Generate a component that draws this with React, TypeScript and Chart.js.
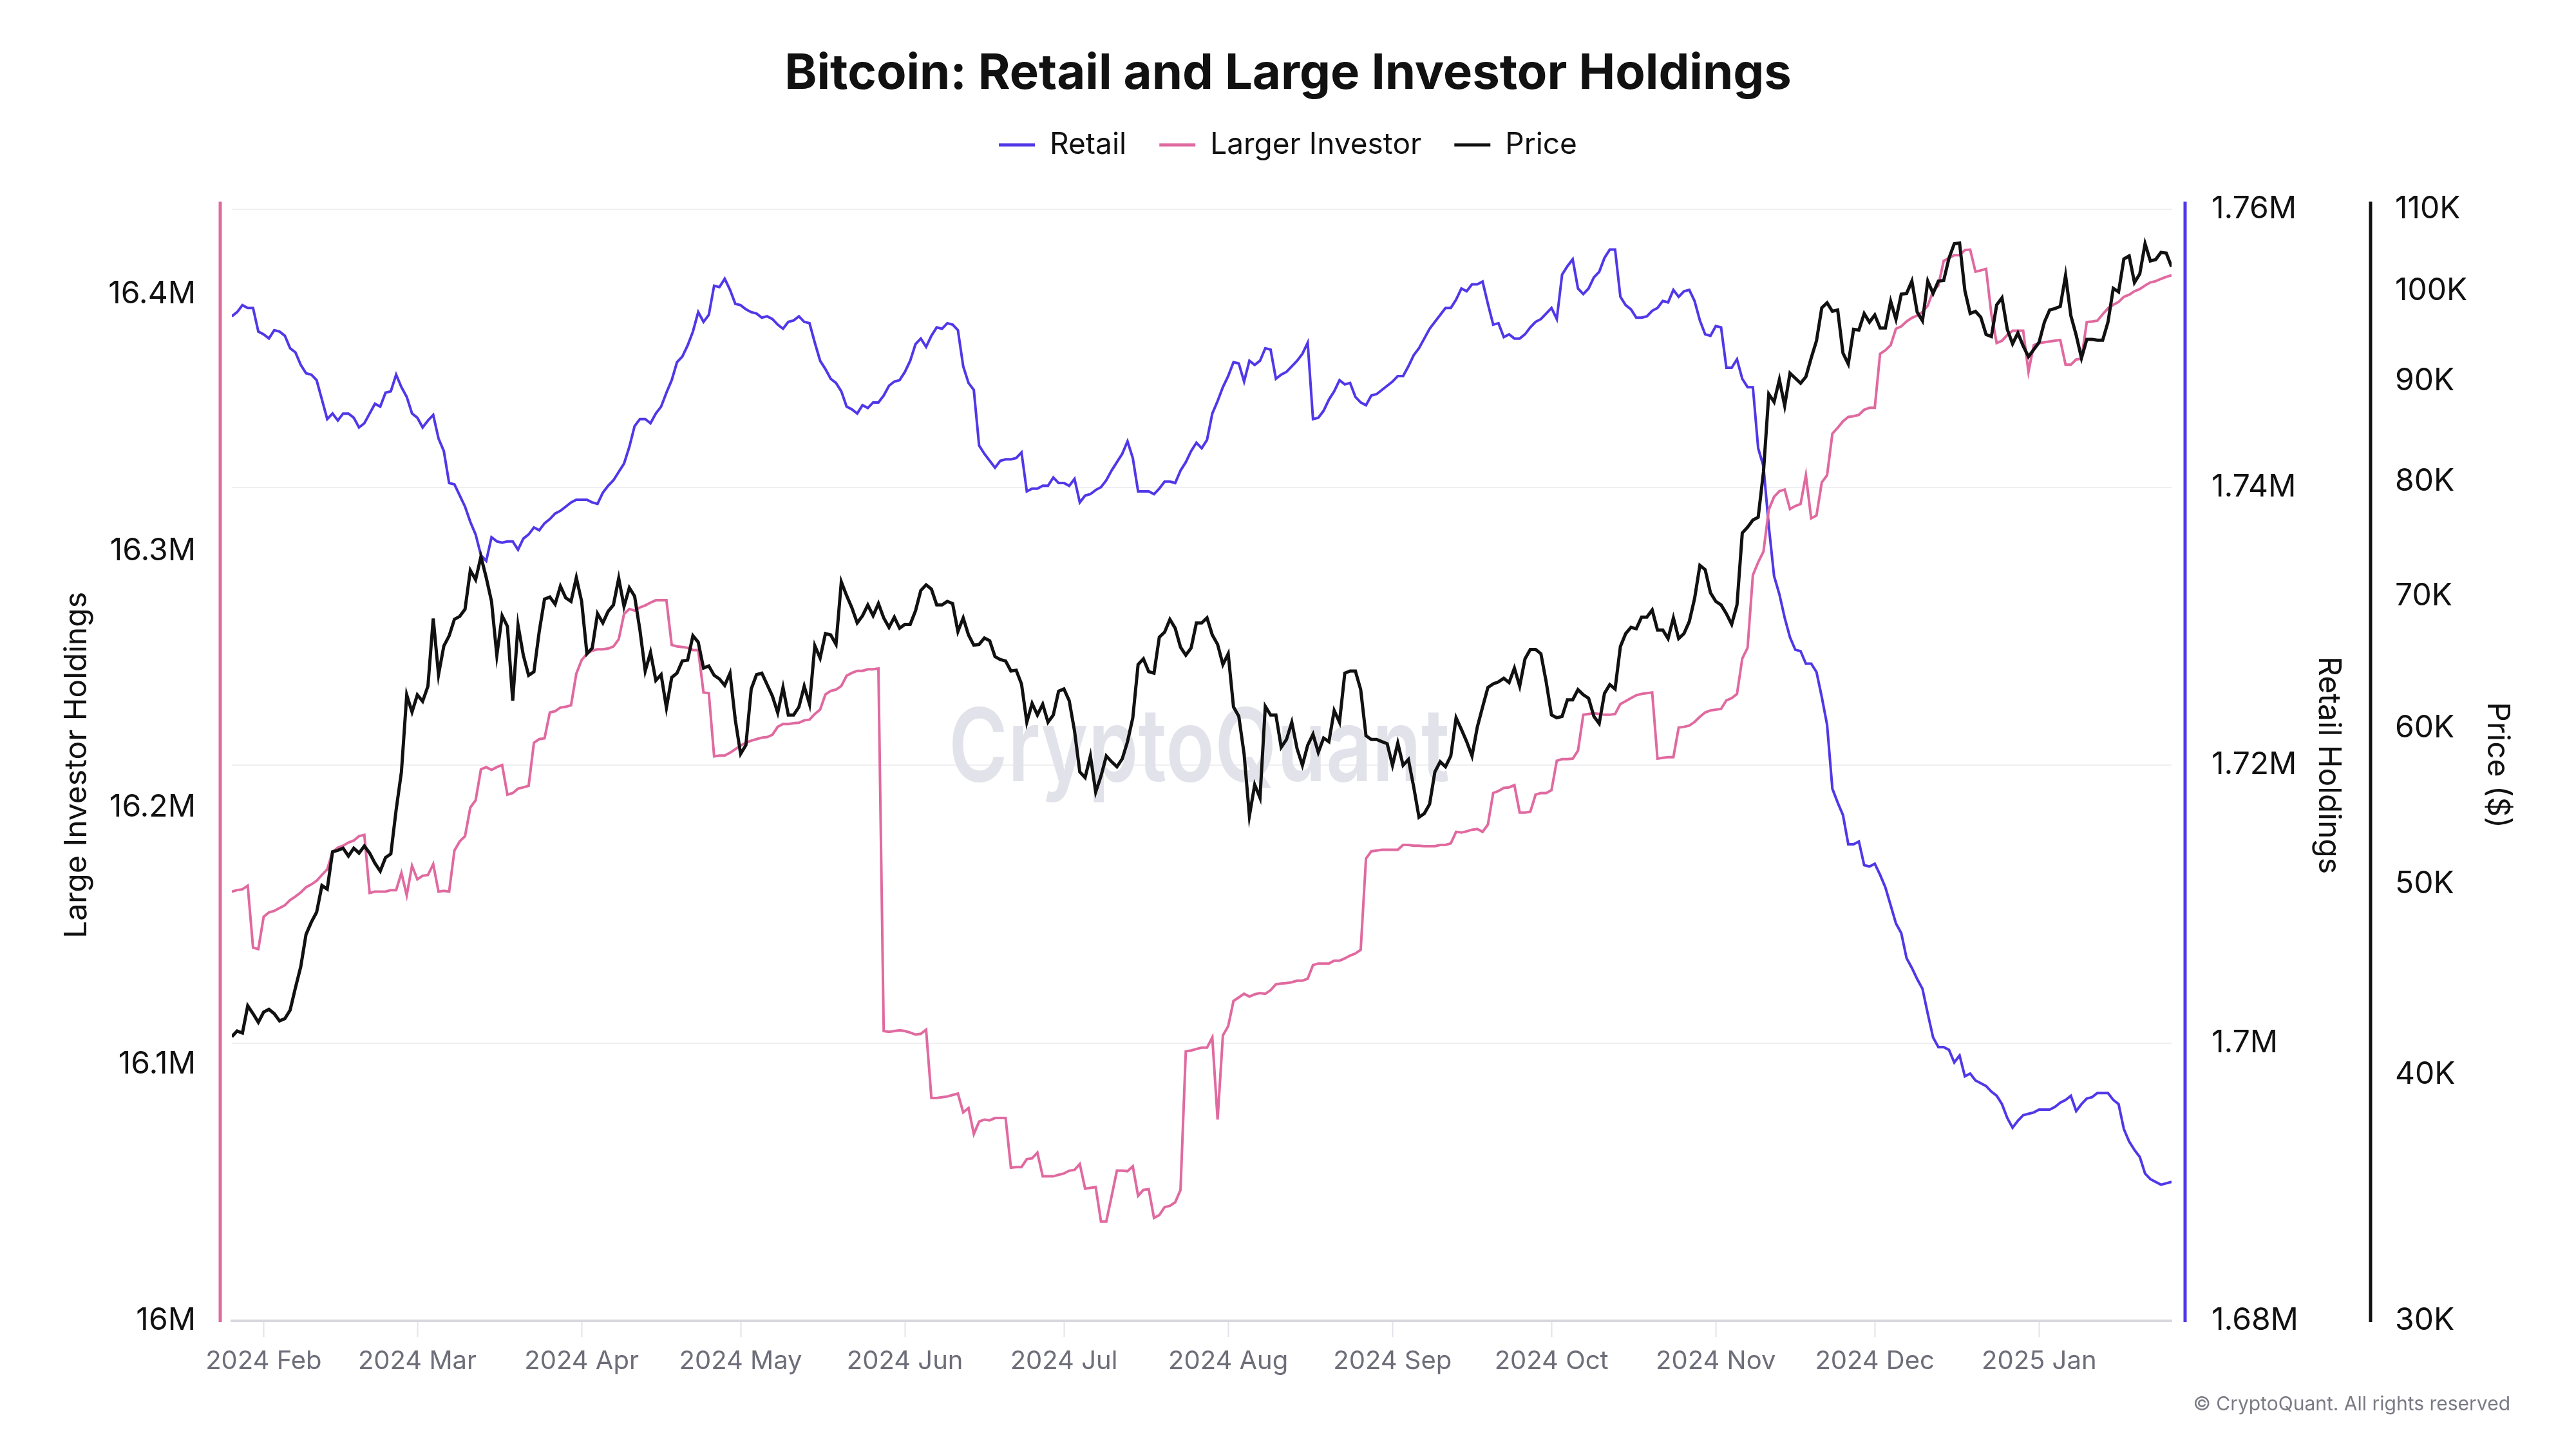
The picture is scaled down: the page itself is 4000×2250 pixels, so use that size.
import React, { useEffect, useRef } from 'react';
import { Chart, registerables } from 'chart.js';

Chart.register(...registerables);

// ---------- data (daily, starting at START_DATE) ----------
const START_DATE = '2024-01-26';

const MONTH_STARTS = [
  '2024-02-01', '2024-03-01', '2024-04-01', '2024-05-01', '2024-06-01', '2024-07-01',
  '2024-08-01', '2024-09-01', '2024-10-01', '2024-11-01', '2024-12-01', '2025-01-01',
];
const MONTH_LABELS = [
  '2024 Feb', '2024 Mar', '2024 Apr', '2024 May', '2024 Jun', '2024 Jul',
  '2024 Aug', '2024 Sep', '2024 Oct', '2024 Nov', '2024 Dec', '2025 Jan',
];

// Retail holdings, thousands of BTC
const RETAIL_K = [
  1752.3, 1752.6, 1753.1, 1752.9, 1752.9, 1751.2, 1751.0, 1750.7, 1751.3, 1751.2,
  1750.9, 1750.0, 1749.7, 1748.8, 1748.2, 1748.1, 1747.7, 1746.3, 1744.9, 1745.3,
  1744.8, 1745.3, 1745.3, 1745.0, 1744.3, 1744.6, 1745.3, 1746.0, 1745.8, 1746.8,
  1746.9, 1748.1, 1747.2, 1746.5, 1745.3, 1745.0, 1744.3, 1744.8, 1745.2, 1743.5,
  1742.6, 1740.3, 1740.2, 1739.4, 1738.6, 1737.5, 1736.6, 1735.1, 1734.7, 1736.4,
  1736.1, 1736.0, 1736.1, 1736.1, 1735.5, 1736.3, 1736.6, 1737.1, 1736.9, 1737.4,
  1737.7, 1738.1, 1738.3,
  1738.6, 1738.9, 1739.1, 1739.1, 1739.1, 1738.9, 1738.8, 1739.6, 1740.1, 1740.5,
  1741.1, 1741.7, 1742.9, 1744.4, 1744.9, 1744.9, 1744.6, 1745.3, 1745.8, 1746.8,
  1747.7, 1749.0, 1749.4, 1750.2, 1751.2, 1752.6, 1751.9, 1752.4, 1754.5, 1754.4,
  1755.0, 1754.2, 1753.2, 1753.1, 1752.8, 1752.6, 1752.5, 1752.2, 1752.3, 1752.1,
  1751.7, 1751.4, 1751.9, 1752.0, 1752.3, 1751.9, 1751.8, 1750.4, 1749.1, 1748.5,
  1747.8, 1747.5, 1746.9, 1745.8, 1745.6, 1745.3, 1745.9, 1745.7, 1746.1, 1746.1,
  1746.6,
  1747.3, 1747.6, 1747.7, 1748.3, 1749.1, 1750.3, 1750.7, 1750.1, 1750.9, 1751.5,
  1751.4, 1751.8, 1751.7, 1751.3, 1748.7, 1747.5, 1747.0, 1743.0, 1742.4, 1741.9,
  1741.4, 1741.9, 1742.0, 1742.0, 1742.1, 1742.5, 1739.7, 1739.9, 1739.9, 1740.1,
  1740.1, 1740.7, 1740.3, 1740.3, 1740.1, 1740.6, 1738.9, 1739.4, 1739.5, 1739.8,
  1740.0, 1740.5, 1741.2, 1741.8, 1742.4, 1743.3, 1742.1, 1739.7, 1739.7, 1739.7,
  1739.5, 1739.9, 1740.4, 1740.4, 1740.3, 1741.2, 1741.8, 1742.6, 1743.2, 1742.8,
  1743.4, 1745.3, 1746.2, 1747.2, 1748.0, 1749.0, 1748.9, 1747.6, 1749.1, 1748.8,
  1749.1, 1750.0, 1749.9, 1747.8, 1748.1, 1748.3, 1748.7, 1749.1, 1749.6, 1750.4,
  1744.9, 1745.0, 1745.5, 1746.3, 1746.9, 1747.7, 1747.4, 1747.5, 1746.5, 1746.1,
  1745.9, 1746.6, 1746.7, 1747.0, 1747.3, 1747.6, 1748.0, 1748.0, 1748.7, 1749.5,
  1750.0, 1750.7, 1751.4, 1751.9, 1752.4, 1752.9, 1752.9, 1753.5, 1754.3, 1754.1,
  1754.6, 1754.6, 1754.8, 1753.2, 1751.7, 1751.8, 1750.8, 1751.0, 1750.7, 1750.7,
  1751.0,
  1751.5, 1751.9, 1752.1, 1752.5, 1752.9, 1752.1, 1755.3, 1755.9, 1756.4, 1754.3,
  1753.9, 1754.3, 1755.1, 1755.5, 1756.5, 1757.1, 1757.1, 1753.7, 1753.1, 1752.8,
  1752.2, 1752.2, 1752.3, 1752.7, 1752.9, 1753.4, 1753.3, 1754.2, 1753.7, 1754.1,
  1754.2, 1753.4, 1752.0, 1751.0, 1750.9, 1751.6, 1751.5, 1748.6, 1748.6, 1749.2,
  1747.8, 1747.2, 1747.2, 1742.8, 1741.5, 1737.2, 1733.6, 1732.3, 1730.6, 1729.2,
  1728.3, 1728.2, 1727.3, 1727.3, 1726.7, 1724.9, 1722.9, 1718.3, 1717.3, 1716.4,
  1714.3,
  1714.3, 1714.5, 1712.8, 1712.7, 1712.9, 1712.1, 1711.2, 1709.9, 1708.6, 1707.9,
  1706.1, 1705.4, 1704.6, 1703.9, 1702.1, 1700.4, 1699.7, 1699.7, 1699.5, 1698.6,
  1699.1, 1697.6, 1697.8, 1697.3, 1697.1, 1696.9, 1696.5, 1696.2, 1695.6, 1694.6,
  1693.9, 1694.4, 1694.8, 1694.9, 1695.0, 1695.2, 1695.2, 1695.2, 1695.4, 1695.7,
  1695.9, 1696.2, 1695.1, 1695.6, 1696.0, 1696.1, 1696.4, 1696.4, 1696.4, 1695.9,
  1695.6, 1693.8, 1692.9, 1692.3, 1691.8, 1690.6, 1690.2, 1690.0, 1689.8, 1689.9,
  1690.0,
];

// Large investor holdings, thousands of BTC
const LARGE_K = [
  16167.2, 16167.8, 16168.1, 16169.5, 16145.4, 16144.8, 16157.4, 16159.1, 16159.7, 16160.8,
  16161.9, 16163.9, 16165.3, 16166.9, 16168.9, 16170.0, 16171.4, 16173.7, 16175.9, 16182.6,
  16184.3, 16185.1, 16186.3, 16187.1, 16188.8, 16189.3, 16166.7, 16167.2, 16167.2, 16167.2,
  16167.8, 16167.8, 16174.5, 16165.8, 16177.3, 16172.0, 16173.4, 16173.7, 16177.9, 16167.2,
  16167.5, 16167.2, 16183.2, 16186.8, 16188.8, 16200.0, 16202.8, 16214.8, 16215.7, 16214.6,
  16215.7, 16216.5, 16205.0, 16205.6, 16207.3, 16207.8, 16208.4, 16225.2, 16226.6, 16226.9,
  16237.0, 16237.5, 16238.9,
  16239.2, 16239.8, 16252.1, 16257.4, 16259.9, 16261.1, 16261.6, 16261.6, 16261.9, 16262.7,
  16265.5, 16275.3, 16277.3, 16276.7, 16277.9, 16278.7, 16279.8, 16280.7, 16280.7, 16280.7,
  16263.3, 16262.7, 16262.5, 16262.2, 16261.3, 16261.3, 16244.8, 16244.5, 16219.9, 16220.2,
  16220.2, 16221.3, 16222.7, 16224.1, 16225.2, 16226.0, 16226.6, 16227.2, 16227.4, 16228.3,
  16231.4, 16232.5, 16232.5, 16232.8, 16233.0, 16233.9, 16234.2, 16236.4, 16238.1, 16244.0,
  16245.4, 16245.9, 16247.3, 16251.3, 16252.4, 16253.2, 16253.2, 16253.8, 16253.8, 16254.1,
  16112.9,
  16112.6, 16112.9, 16113.2, 16112.9, 16112.3, 16111.5, 16111.8, 16113.4, 16086.8, 16086.8,
  16087.1, 16087.4, 16088.0, 16088.5, 16081.2, 16082.9, 16072.8, 16077.6, 16078.4, 16078.1,
  16079.0, 16079.0, 16079.0, 16059.7, 16059.9, 16059.9, 16063.0, 16063.3, 16065.5, 16056.3,
  16056.3, 16056.3, 16056.9, 16057.4, 16058.5, 16058.8, 16061.1, 16051.5, 16051.8, 16052.1,
  16038.7, 16038.7, 16048.5, 16058.5, 16058.5, 16058.3, 16060.2, 16048.7, 16051.0, 16051.3,
  16040.1, 16041.2, 16044.3, 16044.8, 16046.2, 16051.0, 16105.0, 16105.3, 16105.9, 16106.4,
  16106.4, 16110.4, 16078.4, 16111.2, 16114.8, 16124.6, 16126.0, 16127.4, 16126.3, 16127.2,
  16127.7, 16127.4, 16128.8, 16131.1, 16131.4, 16131.6, 16131.9, 16132.5, 16132.5, 16133.3,
  16138.6, 16139.2, 16139.2, 16139.2, 16140.3, 16140.3, 16141.2, 16142.3, 16143.1, 16144.5,
  16180.1, 16182.9, 16183.2, 16183.5, 16183.5, 16183.5, 16183.5, 16185.4, 16185.4, 16185.1,
  16185.1, 16184.9, 16184.9, 16184.9, 16185.4, 16185.4, 16186.0, 16190.5, 16190.2, 16190.7,
  16191.3, 16191.6, 16190.5, 16193.3, 16205.6, 16206.4, 16207.6, 16207.8, 16208.7, 16198.0,
  16198.0,
  16198.3, 16205.0, 16205.6, 16205.6, 16206.7, 16218.2, 16218.8, 16218.8, 16219.0, 16222.1,
  16236.1, 16236.4, 16236.7, 16236.4, 16236.1, 16236.1, 16236.4, 16240.3, 16241.4, 16242.6,
  16243.7, 16244.2, 16244.5, 16244.8, 16219.0, 16219.3, 16219.6, 16219.6, 16231.1, 16231.4,
  16231.9, 16233.3, 16235.3, 16237.0, 16237.8, 16238.1, 16238.4, 16241.7, 16242.6, 16244.2,
  16258.0, 16262.2, 16290.5, 16295.5, 16299.7, 16316.0, 16321.0, 16323.2, 16323.8, 16316.2,
  16317.4, 16318.2, 16329.4, 16312.6, 16313.7, 16326.6, 16329.4, 16345.6, 16347.9, 16350.4,
  16352.1,
  16352.4, 16352.9, 16354.9, 16355.7, 16355.7, 16376.7, 16378.1, 16380.1, 16386.5, 16387.4,
  16389.3, 16390.7, 16391.6, 16393.0, 16395.5, 16401.1, 16403.3, 16412.9, 16414.0, 16415.1,
  16415.1, 16417.1, 16417.3, 16408.7, 16409.2, 16409.8, 16392.1, 16380.9, 16381.8, 16384.0,
  16385.7, 16385.7, 16385.7, 16369.7, 16380.1, 16380.9, 16381.2, 16381.5, 16381.8, 16382.1,
  16372.5, 16372.5, 16374.5, 16374.8, 16389.1, 16389.3, 16389.6, 16392.1, 16394.4, 16395.8,
  16396.9, 16398.9, 16399.7, 16401.1, 16401.9, 16403.3, 16404.5, 16405.0, 16405.9, 16406.7,
  16407.3,
];

// BTC price, thousands of USD
const PRICE_K = [
  41.82, 42.10, 42.00, 43.36, 42.96, 42.53, 43.04, 43.18, 42.96, 42.60,
  42.71, 43.14, 44.28, 45.38, 47.13, 47.81, 48.37, 49.90, 49.69, 51.91,
  52.00, 52.13, 51.65, 52.13, 51.83, 52.26, 51.83, 51.22, 50.75, 51.56,
  51.78, 54.51, 56.99, 62.36, 61.12, 62.36, 61.89, 62.99, 68.18, 63.85,
  66.03, 66.81, 68.12, 68.35, 68.92, 72.13, 71.34, 73.29, 71.52, 69.56,
  65.31, 68.40, 67.55, 61.95, 67.66, 65.31, 63.80, 64.07, 67.15, 69.74,
  69.92, 69.33, 70.81,
  69.85, 69.56, 71.52, 69.56, 65.43, 65.87, 68.57, 67.83, 68.75, 69.27,
  71.46, 69.15, 70.68, 69.97, 67.27, 64.12, 65.53, 63.42, 63.85, 61.43,
  63.64, 63.96, 64.88, 64.94, 66.82, 66.32, 64.34, 64.50, 63.80, 63.53,
  63.05, 63.96, 60.55, 58.20, 58.80, 62.79, 63.85, 63.96, 63.11, 62.27,
  61.07, 62.90, 60.91, 60.91, 61.48, 63.00, 61.68, 66.04, 65.10, 66.99,
  66.88, 66.15, 71.16, 70.03, 69.03, 67.83, 68.40, 69.27, 68.40, 69.38,
  68.23,
  67.48, 68.29, 67.41, 67.72, 67.72, 68.80, 70.45, 70.92, 70.56, 69.27,
  69.27, 69.56, 69.38, 67.16, 68.23, 66.88, 66.09, 66.15, 66.65, 66.43,
  65.21, 64.99, 64.88, 64.12, 64.18, 63.16, 60.40, 61.74, 60.91, 61.68,
  60.40, 60.91, 62.63, 62.79, 61.94, 59.79, 56.99, 56.61, 58.06, 55.67,
  56.71, 58.06, 57.67, 57.33, 57.86, 59.04, 60.71, 64.61, 65.04, 64.07,
  63.96, 66.71, 67.10, 68.11, 67.41, 65.93, 65.32, 65.87, 67.83, 67.83,
  68.23, 66.88, 66.15, 64.61, 65.43, 61.48, 60.81, 58.20, 54.14, 56.14,
  55.29, 61.53, 60.91, 60.91, 58.65, 59.19, 60.40, 58.55, 57.43, 58.80,
  59.55, 58.30, 59.29, 59.04, 61.22, 60.40, 63.96, 64.12, 64.12, 62.74,
  59.45, 59.19, 59.19, 59.04, 58.90, 57.43, 58.94, 57.43, 57.82, 56.00,
  54.05, 54.28, 54.88, 56.99, 57.67, 57.33, 58.06, 60.71, 59.89, 59.04,
  58.06, 60.05, 61.48, 62.90, 63.16, 63.31, 63.58, 63.26, 64.34, 63.00,
  65.04,
  65.76, 65.76, 65.43, 63.31, 60.91, 60.71, 60.81, 62.00, 62.00, 62.74,
  62.37, 62.11, 60.81, 60.30, 62.47, 63.11, 62.79, 65.98, 66.99, 67.48,
  67.37, 68.29, 68.29, 68.86, 67.27, 67.27, 66.60, 68.23, 66.60, 66.99,
  67.94, 69.79, 72.55, 72.18, 70.26, 69.56, 69.27, 68.57, 67.72, 69.27,
  75.35, 75.86, 76.50, 76.75, 80.93, 88.63, 87.82, 90.14, 87.44, 90.82,
  90.29, 89.76, 90.44, 92.44, 94.32, 98.04, 98.62, 97.63, 97.79, 92.98,
  91.81,
  95.60, 95.52, 97.38, 96.40, 97.22, 95.76, 95.76, 98.78, 96.73, 99.61,
  99.70, 101.14, 97.55, 96.56, 101.14, 99.70, 101.14, 101.22, 103.89, 105.66,
  105.75, 100.03, 97.38, 97.63, 96.97, 95.03, 94.80, 98.36, 99.19, 95.60,
  94.00, 95.19, 93.76, 92.59, 93.37, 94.16, 96.40, 97.79, 97.95, 98.20,
  101.82, 97.14, 94.95, 92.44, 94.48, 94.48, 94.40, 94.40, 96.40, 100.29,
  99.87, 103.80, 104.16, 100.97, 101.99, 105.66, 103.55, 103.72, 104.59, 104.50,
  102.85,
];

const LARGE_TICKS = [16000000, 16100000, 16200000, 16300000, 16400000];
const RETAIL_TICKS = [1680000, 1700000, 1720000, 1740000, 1760000];
const PRICE_TICKS = [30000, 40000, 50000, 60000, 70000, 80000, 90000, 100000, 110000];

// ---------- styling ----------
const BLUE = '#5038e8';
const PINK = '#e06aa0';
const BLACK = '#111111';
const FONT = 'Inter, "Noto Sans", sans-serif';

const DAY_MS = 86400000;
const dayOffset = (d: string) =>
  Math.round((Date.parse(d + 'T00:00:00Z') - Date.parse(START_DATE + 'T00:00:00Z')) / DAY_MS);
const MONTH_OFFSETS = MONTH_STARTS.map(dayOffset);
const LAST_DAY = RETAIL_K.length - 1;

const axisLinesPlugin = {
  id: 'axisLines',
  afterDraw(chart: any) {
    const { ctx, chartArea, scales } = chart;
    const top = chartArea.top - 12;
    const bottom = chartArea.bottom + 2;
    const line = (x: number, color: string) => {
      ctx.save();
      ctx.strokeStyle = color;
      ctx.lineWidth = 5;
      ctx.beginPath();
      ctx.moveTo(x, top);
      ctx.lineTo(x, bottom);
      ctx.stroke();
      ctx.restore();
    };
    line(chartArea.left - 18, PINK);
    line(chartArea.right + 21, BLUE);
    line(scales.yPrice.left + 21, BLACK);
  },
};

const watermarkPlugin = {
  id: 'watermark',
  beforeDatasetsDraw(chart: any) {
    const { ctx, chartArea } = chart;
    const cx = (chartArea.left + chartArea.right) / 2 - 4;
    const cy = (chartArea.top + chartArea.bottom) / 2 - 23;
    ctx.save();
    ctx.font = `600 158px ${FONT}`;
    const w = ctx.measureText('CryptoQuant').width;
    const targetW = 778;
    ctx.translate(cx, cy);
    ctx.scale(targetW / w, 1);
    ctx.fillStyle = 'rgba(226, 226, 234, 1)';
    ctx.textAlign = 'center';
    ctx.textBaseline = 'middle';
    ctx.fillText('CryptoQuant', 0, 0);
    ctx.restore();
  },
};

const copyrightPlugin = {
  id: 'copyright',
  afterDraw(chart: any) {
    const { ctx } = chart;
    ctx.save();
    ctx.font = `30px ${FONT}`;
    ctx.fillStyle = '#7a7a85';
    ctx.textAlign = 'right';
    ctx.textBaseline = 'middle';
    ctx.fillText('© CryptoQuant. All rights reserved', 3898, 2181);
    ctx.restore();
  },
};

const fmtM = (v: number, digits: number) => `${parseFloat((v / 1e6).toFixed(digits))}M`;

export default function App() {
  const canvasRef = useRef<HTMLCanvasElement | null>(null);

  useEffect(() => {
    document.body.style.margin = '0';
    const canvas = canvasRef.current;
    if (!canvas) return;
    Chart.defaults.font.family = FONT;

    const chart = new Chart(canvas, {
      type: 'line',
      data: {
        datasets: [
          {
            label: 'Retail',
            data: RETAIL_K.map((v, i) => ({ x: i, y: v * 1000 })),
            borderColor: BLUE,
            backgroundColor: BLUE,
            borderWidth: 4,
            pointRadius: 0,
            tension: 0,
            yAxisID: 'yRetail',
            order: 3,
          },
          {
            label: 'Larger Investor',
            data: LARGE_K.map((v, i) => ({ x: i, y: v * 1000 })),
            borderColor: PINK,
            backgroundColor: PINK,
            borderWidth: 4,
            pointRadius: 0,
            tension: 0,
            yAxisID: 'yLarge',
            order: 2,
          },
          {
            label: 'Price',
            data: PRICE_K.map((v, i) => ({ x: i, y: v * 1000 })),
            borderColor: BLACK,
            backgroundColor: BLACK,
            borderWidth: 5,
            pointRadius: 0,
            tension: 0,
            yAxisID: 'yPrice',
            order: 1,
          },
        ],
      },
      options: {
        responsive: false,
        animation: false,
        devicePixelRatio: 1,
        parsing: false,
        events: [],
        layout: { padding: { left: 40, right: 40, top: 0, bottom: 0 } },
        plugins: {
          tooltip: { enabled: false },
          title: {
            display: true,
            text: 'Bitcoin: Retail and Large Investor Holdings',
            color: '#111111',
            font: { family: FONT, size: 76, weight: 'bold', lineHeight: 1 },
            padding: { top: 77, bottom: -2 },
          },
          legend: {
            display: true,
            position: 'top',
            align: 'center',
            labels: {
              color: '#111111',
              font: { family: FONT, size: 46 },
              boxWidth: 56,
              boxHeight: 5,
              padding: 51,
              sort: (a: any, b: any) => a.datasetIndex - b.datasetIndex,
              generateLabels: (c: any) =>
                Chart.defaults.plugins.legend.labels.generateLabels(c).map((l: any) => ({
                  ...l,
                  fillStyle: l.strokeStyle,
                  lineWidth: 0,
                })),
            },
          },
          subtitle: {
            display: true,
            text: '',
            weight: 500,
            font: { size: 10, lineHeight: 1 },
            padding: { top: 57, bottom: 0 },
          },
        },
        scales: {
          x: {
            type: 'linear',
            min: 0,
            max: LAST_DAY,
            grid: {
              drawOnChartArea: false,
              drawTicks: true,
              tickLength: 25,
              tickColor: '#e3e3e9',
              tickWidth: 2,
            },
            border: { display: true, color: '#d7d7de', width: 4 },
            ticks: {
              color: '#6e6e7a',
              font: { family: FONT, size: 40 },
              padding: 14,
              maxRotation: 0,
              autoSkip: false,
              callback: (_v: any, i: number) => MONTH_LABELS[i],
            },
            afterBuildTicks: (s: any) => {
              s.ticks = MONTH_OFFSETS.map((v) => ({ value: v }));
            },
            afterFit: (s: any) => {
              s.height = 199;
            },
          },
          yLarge: {
            type: 'linear',
            position: 'left',
            min: 16000000,
            max: 16433000,
            grid: { display: false, drawTicks: false, drawOnChartArea: false },
            border: { display: false },
            ticks: {
              color: '#111111',
              font: { family: FONT, size: 48 },
              padding: 56,
              callback: (v: any) => fmtM(Number(v), 1),
            },
            afterBuildTicks: (s: any) => {
              s.ticks = LARGE_TICKS.map((v) => ({ value: v }));
            },
            title: {
              display: true,
              text: 'Large Investor Holdings',
              color: '#111111',
              font: { family: FONT, size: 48 },
              padding: { top: 51, bottom: 0 },
            },
            afterFit: (s: any) => {
              s.width = 320;
            },
          },
          yRetail: {
            type: 'linear',
            position: 'right',
            min: 1680000,
            max: 1760000,
            grid: { drawOnChartArea: true, drawTicks: false, color: '#efeff3', lineWidth: 2 },
            border: { display: false },
            ticks: {
              color: '#111111',
              font: { family: FONT, size: 48 },
              padding: 62,
              callback: (v: any) => fmtM(Number(v), 2),
            },
            afterBuildTicks: (s: any) => {
              s.ticks = RETAIL_TICKS.map((v) => ({ value: v }));
            },
            title: {
              display: true,
              text: 'Retail Holdings',
              color: '#111111',
              font: { family: FONT, size: 48 },
              padding: { top: 16, bottom: 0 },
            },
            afterFit: (s: any) => {
              s.width = 288;
            },
          },
          yPrice: {
            type: 'logarithmic',
            position: 'right',
            min: 30000,
            max: 110000,
            grid: { display: false, drawTicks: false, drawOnChartArea: false },
            border: { display: false },
            ticks: {
              color: '#111111',
              font: { family: FONT, size: 48 },
              padding: 59,
              callback: (v: any) => `${Math.round(Number(v) / 1000)}K`,
            },
            afterBuildTicks: (s: any) => {
              s.ticks = PRICE_TICKS.map((v) => ({ value: v }));
            },
            title: {
              display: true,
              text: 'Price ($)',
              color: '#111111',
              font: { family: FONT, size: 48 },
              padding: { top: 54, bottom: 0 },
            },
            afterFit: (s: any) => {
              s.width = 300;
            },
          },
        },
      } as any,
      plugins: [watermarkPlugin, axisLinesPlugin, copyrightPlugin],
    });

    return () => {
      chart.destroy();
    };
  }, []);

  return (
    <div
      style={{
        position: 'absolute',
        left: 0,
        top: 0,
        width: 4000,
        height: 2250,
        background: '#ffffff',
      }}
    >
      <canvas ref={canvasRef} width={4000} height={2250} style={{ display: 'block' }} />
    </div>
  );
}
